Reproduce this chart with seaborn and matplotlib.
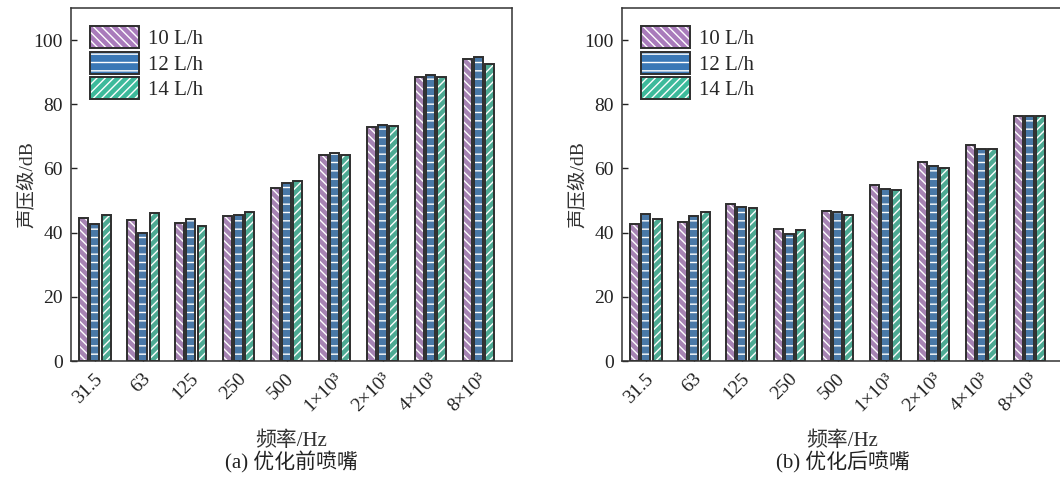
import pandas as pd
import seaborn as sns
import matplotlib.pyplot as plt
from matplotlib.patches import Patch, Rectangle
from matplotlib.transforms import ScaledTranslation

# frequency bands and flow rates
freqs = ['31.5', '63', '125', '250', '500', '1×10³', '2×10³', '4×10³', '8×10³']
flows = ['10 L/h', '12 L/h', '14 L/h']

# (a) before optimisation
before_10 = [44.6, 44.0, 42.9, 45.3, 53.9, 64.1, 72.8, 88.4, 94.1]
before_12 = [42.7, 40.0, 44.2, 45.5, 55.5, 64.9, 73.4, 89.2, 94.6]
before_14 = [45.5, 46.2, 42.0, 46.3, 56.2, 64.3, 73.2, 88.6, 92.7]

# (b) after optimisation
after_10 = [42.6, 43.2, 48.8, 41.2, 46.7, 54.7, 62.0, 67.4, 76.3]
after_12 = [45.7, 45.2, 48.0, 39.5, 46.4, 53.6, 60.7, 66.2, 76.5]
after_14 = [44.3, 46.3, 47.6, 40.8, 45.4, 53.2, 60.2, 66.2, 76.2]

colors = ['#a97bbb', '#3a78b6', '#3dba9b']
hatches = ['\\\\\\\\', '--', '////']
edge = '#2e2e2e'

sns.set_theme(style='ticks')
plt.rcParams['font.family'] = ['Liberation Serif', 'Noto Sans CJK SC']
plt.rcParams['hatch.linewidth'] = 1.0

fig = plt.figure(figsize=(10.6, 4.84), dpi=100)


def to_long(s10, s12, s14):
    rows = []
    for name, vals in zip(flows, [s10, s12, s14]):
        for f, v in zip(freqs, vals):
            rows.append({'freq': f, 'flow': name, 'level': v})
    return pd.DataFrame(rows)


def draw(ax, df, caption):
    # hatch takes the edge colour, so bars get white edges and a separate dark outline
    sns.barplot(data=df, x='freq', y='level', hue='flow', order=freqs, hue_order=flows,
                palette=colors, width=0.7, gap=0.2, edgecolor='white', linewidth=0,
                legend=False, ax=ax)
    for cont, h in zip(ax.containers, hatches):
        for bar in cont:
            bar.set_hatch(h)
            ax.add_patch(Rectangle(bar.get_xy(), bar.get_width(), bar.get_height(),
                                   fill=False, edgecolor=edge, linewidth=1.4, zorder=2))
    ax.set_xlim(-0.5, 8.7)
    ax.set_ylim(0, 110)
    ax.set_yticks([0, 20, 40, 60, 80, 100])
    ax.tick_params(direction='in', labelsize=14, length=4, width=1, colors='#222222')
    ax.tick_params(axis='x', pad=11)
    ax.tick_params(axis='y', pad=6)
    shift = ScaledTranslation(5 / 100, 0, fig.dpi_scale_trans)
    for lab in ax.get_xticklabels():
        lab.set_rotation(45)
        lab.set_ha('right')
        lab.set_va('center')
        lab.set_rotation_mode('anchor')
        lab.set_transform(lab.get_transform() + shift)
    for sp in ax.spines.values():
        sp.set_visible(True)
        sp.set_linewidth(1.1)
        sp.set_color('#333333')
    ax.set_ylabel('声压级/dB', fontsize=14, color='#333333')
    ax.yaxis.set_label_coords(-0.077, 0.5)
    ax.set_xlabel('频率/Hz', fontsize=15, labelpad=12, color='#333333')
    ax.text(0.5, -0.255, caption, transform=ax.transAxes, ha='center', va='top',
            fontsize=15, color='#222222')
    handles = [(Patch(facecolor=c, edgecolor='white', hatch=h, linewidth=0),
                Patch(fill=False, edgecolor=edge, linewidth=1.4))
               for c, h in zip(colors, hatches)]
    ax.legend(handles, flows, loc='upper left', frameon=False, fontsize=15,
              handlelength=2.35, handleheight=1.25, labelspacing=0.12,
              handletextpad=0.45, borderaxespad=0.3, bbox_to_anchor=(0.01, 0.99))


ax1 = fig.add_axes([71 / 1060, 123 / 484, 441 / 1060, 353 / 484])
ax2 = fig.add_axes([622 / 1060, 123 / 484, 441 / 1060, 353 / 484])

draw(ax1, to_long(before_10, before_12, before_14), '(a) 优化前喷嘴')
draw(ax2, to_long(after_10, after_12, after_14), '(b) 优化后喷嘴')

fig.savefig('out.png', dpi=100)
